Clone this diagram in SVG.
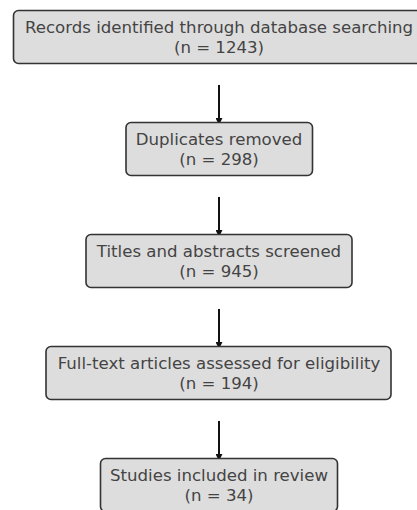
<svg xmlns="http://www.w3.org/2000/svg" width="417" height="510" viewBox="0 0 417 510">
<defs>
<style>
.box{fill:#dddddd;stroke:#333333;stroke-width:1.6}
.t{font-family:"DejaVu Sans",sans-serif;font-size:16.6px;fill:#444444;text-anchor:middle}
.edge{stroke:#111111;stroke-width:2;fill:none}
</style>
<marker id="ah" viewBox="0 0 10 10" refX="10" refY="5" markerWidth="3.5" markerHeight="3.5" markerUnits="strokeWidth" orient="auto">
<path d="M0,0 L10,5 L0,10 z" fill="#111111"/>
</marker>
</defs>
<rect width="417" height="510" fill="#ffffff"/>
<g id="edges">
<line class="edge" x1="219" y1="85" x2="219" y2="125" marker-end="url(#ah)"/>
<line class="edge" x1="219" y1="197" x2="219" y2="237" marker-end="url(#ah)"/>
<line class="edge" x1="219" y1="309" x2="219" y2="349" marker-end="url(#ah)"/>
<line class="edge" x1="219" y1="421" x2="219" y2="461" marker-end="url(#ah)"/>
</g>
<g id="n1">
<rect class="box" x="13.5" y="10.5" width="411" height="53" rx="5"/>
<text class="t" x="219" y="32.5">Records identified through database searching</text>
<text class="t" x="219" y="52.5">(n = 1243)</text>
</g>
<g id="n2">
<rect class="box" x="126" y="122.5" width="186.5" height="53" rx="5"/>
<text class="t" x="219" y="144.5">Duplicates removed</text>
<text class="t" x="219" y="164.5">(n = 298)</text>
</g>
<g id="n3">
<rect class="box" x="86" y="234.5" width="266" height="53" rx="5"/>
<text class="t" x="219" y="256.5">Titles and abstracts screened</text>
<text class="t" x="219" y="276.5">(n = 945)</text>
</g>
<g id="n4">
<rect class="box" x="46" y="346.5" width="345" height="53" rx="5"/>
<text class="t" x="219" y="368.5">Full-text articles assessed for eligibility</text>
<text class="t" x="219" y="388.5">(n = 194)</text>
</g>
<g id="n5">
<rect class="box" x="100.5" y="458.5" width="237" height="53" rx="5"/>
<text class="t" x="219" y="480.5">Studies included in review</text>
<text class="t" x="219" y="500.5">(n = 34)</text>
</g>
</svg>
